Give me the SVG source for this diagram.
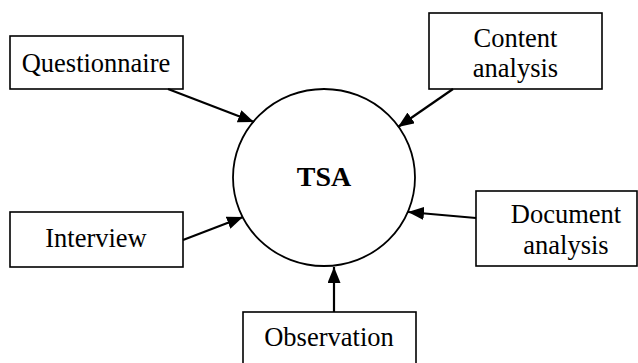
<svg xmlns="http://www.w3.org/2000/svg" width="638" height="363" viewBox="0 0 638 363">
<style>
.box{fill:#fff;stroke:#000;stroke-width:1.6}
.lbl{font-family:"Liberation Serif","Times New Roman",serif;font-size:26.5px;fill:#000;text-anchor:middle}
.conn{stroke:#000;stroke-width:2.2;fill:none}
</style>
<defs>
<marker id="ah" markerUnits="userSpaceOnUse" markerWidth="17" markerHeight="13" refX="16" refY="6.5" orient="auto">
<path d="M0,0 L16,6.5 L0,13 z" fill="#000"/>
</marker>
</defs>
<rect width="638" height="363" fill="#fff"/>
<g id="tsa">
<ellipse cx="324" cy="177.5" rx="91" ry="88.5" fill="#fff" stroke="#000" stroke-width="1.8"/>
<text x="324" y="186" class="lbl" style="font-weight:bold;font-size:28px">TSA</text>
</g>
<g id="questionnaire">
<rect class="box" x="10" y="36" width="173" height="53"/>
<text class="lbl" x="96" y="72">Questionnaire</text>
</g>
<g id="content-analysis">
<rect class="box" x="429" y="13" width="173" height="76"/>
<text class="lbl" x="515.5" y="47">Content</text>
<text class="lbl" x="515.5" y="77">analysis</text>
</g>
<g id="interview">
<rect class="box" x="10" y="212" width="173" height="55"/>
<text class="lbl" x="96" y="247">Interview</text>
</g>
<g id="document-analysis">
<rect class="box" x="476" y="191" width="161" height="75"/>
<text class="lbl" x="566" y="223">Document</text>
<text class="lbl" x="566" y="254">analysis</text>
</g>
<g id="observation">
<rect class="box" x="243" y="312" width="173" height="60"/>
<text class="lbl" x="329" y="346">Observation</text>
</g>
<g id="connectors">
<line class="conn" x1="168" y1="89" x2="254" y2="122" marker-end="url(#ah)"/>
<line class="conn" x1="453" y1="89" x2="398" y2="127" marker-end="url(#ah)"/>
<line class="conn" x1="183" y1="240" x2="243" y2="217" marker-end="url(#ah)"/>
<line class="conn" x1="476" y1="218" x2="408" y2="212" marker-end="url(#ah)"/>
<line class="conn" x1="334" y1="312" x2="334" y2="267" marker-end="url(#ah)"/>
</g>
</svg>
